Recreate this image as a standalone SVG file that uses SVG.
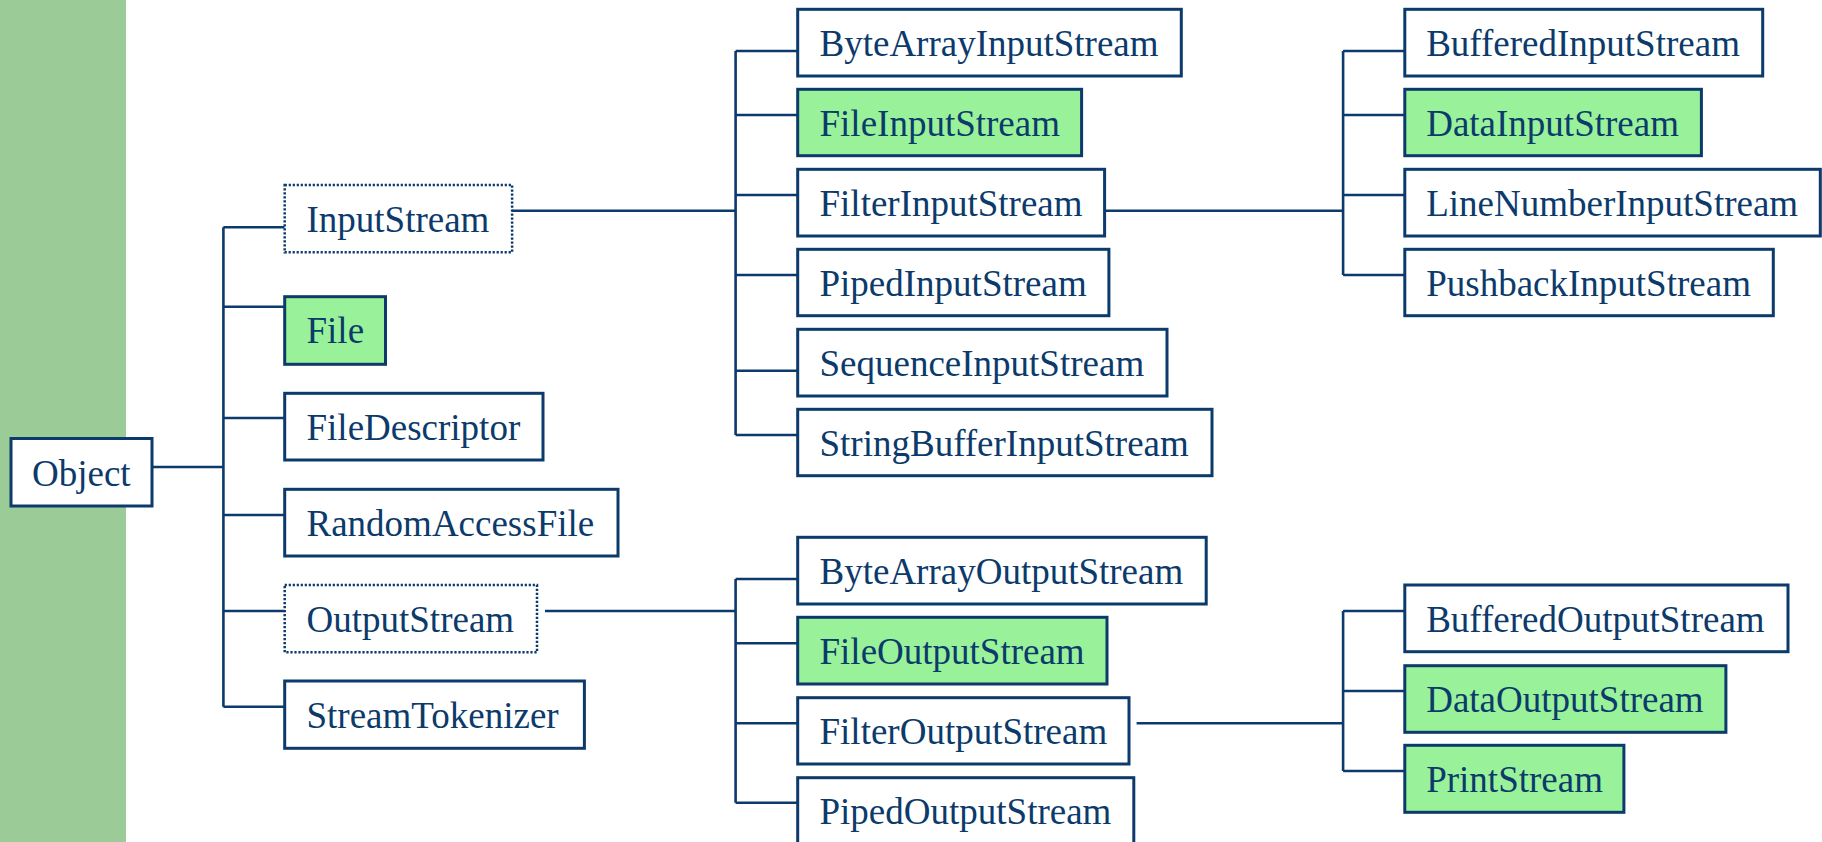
<svg xmlns="http://www.w3.org/2000/svg" width="1822" height="842" viewBox="0 0 1822 842">
<style>
.b{fill:#ffffff;stroke:#0B3A6B;stroke-width:3}
.g{fill:#99F299;stroke:#0B3A6B;stroke-width:3}
.d{fill:#ffffff;stroke:#0B3A6B;stroke-width:2.5;stroke-dasharray:2.2 1.8}
text{font-family:"Liberation Serif","Times New Roman",serif;font-size:37px;fill:#0B3A6B}
.c{fill:none;stroke:#0B3A6B;stroke-width:2.6}
</style>
<rect x="0" y="0" width="1822" height="842" fill="#ffffff"/>
<rect x="0" y="0" width="126" height="842" fill="#9BCC97"/>
<g id="connectors" class="c">
<path class="c" d="M151.8 467H223.4M223.4 227.3V706.7M223.4 227.3H284.7M223.4 306.7H284.7M223.4 418H284.7M223.4 515H284.7M223.4 611H284.7M223.4 706.7H284.7"/>
<path class="c" d="M512 210.7H735.6M735.6 51V435M735.6 51H797.7M735.6 115H797.7M735.6 195H797.7M735.6 275H797.7M735.6 370.7H797.7M735.6 435H797.7"/>
<path class="c" d="M1104.6 210.7H1343.1M1343.1 51V275M1343.1 51H1404.8M1343.1 115H1404.8M1343.1 195H1404.8M1343.1 275H1404.8"/>
<path class="c" d="M545 611H735.6M735.6 579V802.7M735.6 579H797.7M735.6 643.3H797.7M735.6 723.3H797.7M735.6 802.7H797.7"/>
<path class="c" d="M1136.6 723.3H1343.1M1343.1 611V771M1343.1 611H1404.8M1343.1 691H1404.8M1343.1 771H1404.8"/>
</g>
<g id="Object"><rect class="b" x="11" y="438.5" width="141" height="67.5"/><text x="32" y="486">Object</text></g>
<g id="InputStream"><rect class="d" x="284.7" y="185" width="227.4" height="67.3"/><text x="306.5" y="231.7">InputStream</text></g>
<g id="File"><rect class="g" x="284.7" y="296.7" width="100.8" height="67.6"/><text x="306.5" y="343.3">File</text></g>
<g id="FileDescriptor"><rect class="b" x="284.7" y="393.3" width="258.3" height="66.7"/><text x="306.5" y="440">FileDescriptor</text></g>
<g id="RandomAccessFile"><rect class="b" x="284.7" y="489.3" width="333.3" height="66.7"/><text x="306.5" y="535.5">RandomAccessFile</text></g>
<g id="OutputStream"><rect class="d" x="284.7" y="585" width="252.3" height="67.3"/><text x="306.5" y="631.7">OutputStream</text></g>
<g id="StreamTokenizer"><rect class="b" x="284.7" y="681" width="299.7" height="67.3"/><text x="306.5" y="727.5">StreamTokenizer</text></g>
<g id="ByteArrayInputStream"><rect class="b" x="797.7" y="9.3" width="383.6" height="66.7"/><text x="819.5" y="55.5">ByteArrayInputStream</text></g>
<g id="FileInputStream"><rect class="g" x="797.7" y="89.3" width="283.9" height="66.4"/><text x="819.5" y="135.5">FileInputStream</text></g>
<g id="FilterInputStream"><rect class="b" x="797.7" y="169.3" width="306.9" height="66.7"/><text x="819.5" y="215.5">FilterInputStream</text></g>
<g id="PipedInputStream"><rect class="b" x="797.7" y="249.3" width="311.2" height="66.4"/><text x="819.5" y="295.5">PipedInputStream</text></g>
<g id="SequenceInputStream"><rect class="b" x="797.7" y="329.3" width="369.3" height="66.7"/><text x="819.5" y="375.5">SequenceInputStream</text></g>
<g id="StringBufferInputStream"><rect class="b" x="797.7" y="409.3" width="414.3" height="66.4"/><text x="819.5" y="455.5">StringBufferInputStream</text></g>
<g id="ByteArrayOutputStream"><rect class="b" x="797.7" y="537.3" width="408.5" height="66.7"/><text x="819.5" y="584">ByteArrayOutputStream</text></g>
<g id="FileOutputStream"><rect class="g" x="797.7" y="617.3" width="309.3" height="66.7"/><text x="819.5" y="664">FileOutputStream</text></g>
<g id="FilterOutputStream"><rect class="b" x="797.7" y="697.7" width="331.3" height="66.3"/><text x="819.5" y="744">FilterOutputStream</text></g>
<g id="PipedOutputStream"><rect class="b" x="797.7" y="777.7" width="336.1" height="80"/><text x="819.5" y="824">PipedOutputStream</text></g>
<g id="BufferedInputStream"><rect class="b" x="1404.8" y="9.3" width="357.9" height="66.7"/><text x="1426.2" y="55.5">BufferedInputStream</text></g>
<g id="DataInputStream"><rect class="g" x="1404.8" y="89.3" width="296.6" height="66.4"/><text x="1426.2" y="135.5">DataInputStream</text></g>
<g id="LineNumberInputStream"><rect class="b" x="1404.8" y="169.3" width="415.5" height="66.7"/><text x="1426.2" y="215.5">LineNumberInputStream</text></g>
<g id="PushbackInputStream"><rect class="b" x="1404.8" y="249.3" width="368.5" height="66.4"/><text x="1426.2" y="295.5">PushbackInputStream</text></g>
<g id="BufferedOutputStream"><rect class="b" x="1404.8" y="585" width="383.2" height="66.7"/><text x="1426.2" y="631.7">BufferedOutputStream</text></g>
<g id="DataOutputStream"><rect class="g" x="1404.8" y="665.7" width="321.1" height="66.6"/><text x="1426.2" y="711.7">DataOutputStream</text></g>
<g id="PrintStream"><rect class="g" x="1404.8" y="745.3" width="219.1" height="67"/><text x="1426.2" y="791.7">PrintStream</text></g>
</svg>
